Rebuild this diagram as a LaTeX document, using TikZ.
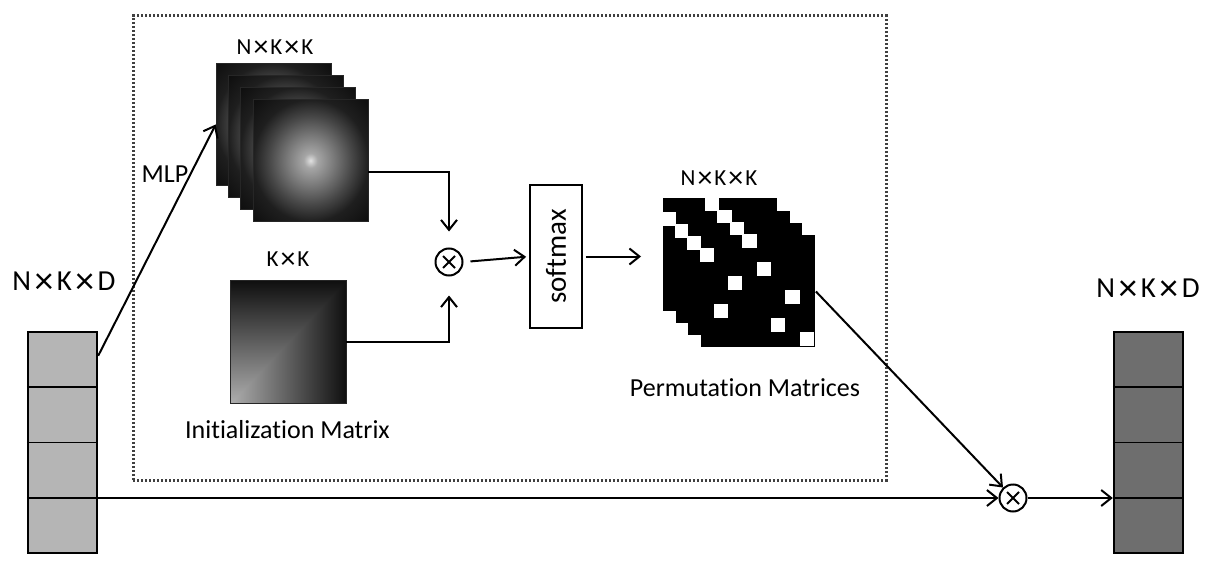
\documentclass[tikz,border=0pt]{standalone}
\usepackage{fontspec}
\usepackage{graphicx}
\setmainfont{Carlito}[Ligatures=NoCommon]
\usetikzlibrary{arrows.meta,calc}

\pgfdeclareradialshading{mlpshade}{\pgfpointorigin}{color(0bp)=(black!12); color(3bp)=(black!35); color(10bp)=(black!52); color(18bp)=(black!72); color(25bp)=(black!88); color(36bp)=(black!95); color(50bp)=(black)}
\definecolor{lcolc}{gray}{0.71}
\definecolor{rcolc}{gray}{0.43}
\newcommand{\tms}[1]{\hspace{#1}\raisebox{-0.1em}{\scalebox{1.3}{×}}\hspace{#1}}

\begin{document}
\begin{tikzpicture}[x=1pt,y=-1pt, line width=2pt,
  arr/.style={-{Straight Barb[length=10pt,width=16pt]}, line width=2pt},
  colbox/.style={draw, line width=2.4pt, minimum width=69pt, minimum height=221pt, inner sep=0pt},
  mlpsq/.style={shading=mlpshade, draw=black!85, line width=0.6pt, minimum width=115pt, minimum height=122pt, inner sep=0pt},
  permsq/.style={fill=black, minimum width=114.4pt, minimum height=112pt, inner sep=0pt},
  lbl/.style={font=\fontsize{26}{28}\selectfont, inner sep=0pt},
  dimlbl/.style={font=\fontsize{23}{25}\selectfont, inner sep=0pt},
  biglbl/.style={font=\fontsize{29}{31}\selectfont, inner sep=0pt},
  prod/.style={circle, draw, line width=2pt, minimum size=27pt, inner sep=0pt,
    path picture={\draw[line width=2pt]
      ($(path picture bounding box.center)+(-6pt,-6pt)$) -- ($(path picture bounding box.center)+(6pt,6pt)$)
      ($(path picture bounding box.center)+(-6pt,6pt)$) -- ($(path picture bounding box.center)+(6pt,-6pt)$);}},
  framebox/.style={draw=black!75, line width=3pt, dash pattern=on 2.4pt off 1.6pt, minimum width=753pt, minimum height=464pt, inner sep=0pt}
]
\useasboundingbox (0,0) rectangle (1212,564);

% dotted frame
\node[framebox] (frame) at (509.5,248) {};

% input / output columns
\node[colbox, fill=lcolc] (lcol) at (62.5,442.5) {};
\node[colbox, fill=rcolc] (rcol) at (1148.5,442.5) {};
\foreach \k in {1,2,3}{
  \draw[line width=1.8pt] ($(lcol.north west)!\k/4!(lcol.south west)$) -- ($(lcol.north east)!\k/4!(lcol.south east)$);
  \draw[line width=1.8pt] ($(rcol.north west)!\k/4!(rcol.south west)$) -- ($(rcol.north east)!\k/4!(rcol.south east)$);
}

% MLP output stack
\node[mlpsq] (sq1) at (273.5,124.5) {};
\node[mlpsq] (sq2) at (285.8,136.5) {};
\node[mlpsq] (sq3) at (298.2,148.5) {};
\node[mlpsq] (sq4) at (310.5,160.5) {};

% initialization matrix
\node[draw=black!85, line width=0.6pt, minimum width=115pt, minimum height=122pt, inner sep=0pt] (init) at (288.5,342) {};
\shade[left color=black!32, right color=black!94] (init.south west) rectangle (init.north east);
\begin{scope}
  \clip (init.south west) -- (init.north west) -- (init.north east) -- cycle;
  \shade[top color=black!94, bottom color=black!32] (init.south west) rectangle (init.north east);
\end{scope}
\draw[black!85, line width=0.8pt] (init.south west) rectangle (init.north east);

% permutation matrices
\foreach \k in {0,1,2,3}{
  \node[permsq] (P\k) at ({720.2+12.5*\k},{254.5+12.33*\k}) {};
  \foreach \r/\c in {0/3,1/0,2/4,3/2,4/6,5/1,6/5,7/7}{
    \fill[white] ($(P\k.north west)+({\c*14.3},{\r*14})$) rectangle ++(14.3,14);
  }
}

% operators
\node[prod] (ot1) at (449,262) {};
\node[prod] (ot2) at (1013,498) {};
\node[draw, line width=1.8pt, minimum width=52pt, minimum height=143pt, inner sep=0pt] (soft) at (556,256.5)
  {\rotatebox{90}{\fontsize{29}{31}\selectfont softmax}};

% labels
\node[biglbl] (inlbl) at (64,283) {N\tms{3.5pt}K\tms{3.5pt}D};
\node[biglbl] (outlbl) at (1148,290) {N\tms{3.5pt}K\tms{3.5pt}D};
\node[dimlbl] (mlpdim) at (275,48) {N\tms{2pt}K\tms{2pt}K};
\node[dimlbl] (initdim) at (288,260) {K\tms{2pt}K};
\node[lbl] (initlbl) at (287.5,430) {Initialization Matrix};
\node[dimlbl] (permdim) at (719,179) {N\tms{2pt}K\tms{2pt}K};
\node[lbl] (permlbl) at (745,388) {Permutation Matrices};
\node[lbl] (mlplbl) at (165,174) {MLP};

% connectors
\draw[arr] ($(lcol.north east)+(0,25)$) -- (sq1.west);
\draw[arr, shorten >=16pt] ($(sq4.east)+(0,11.5)$) -| (ot1.north);
\draw[arr, shorten >=19pt] (init.east) -| (ot1.south);
\draw[arr, shorten <=7pt, shorten >=3pt] (ot1.east) -- (soft.west);
\draw[arr, shorten <=3pt, shorten >=21pt] (soft.east) -- (soft.east -| P0.west);
\draw[arr] (P3.east) -- (ot2);
\draw[arr] (ot2 -| lcol.east) -- (ot2.west);
\draw[arr] (ot2.east) -- (ot2 -| rcol.west);
\end{tikzpicture}
\end{document}
